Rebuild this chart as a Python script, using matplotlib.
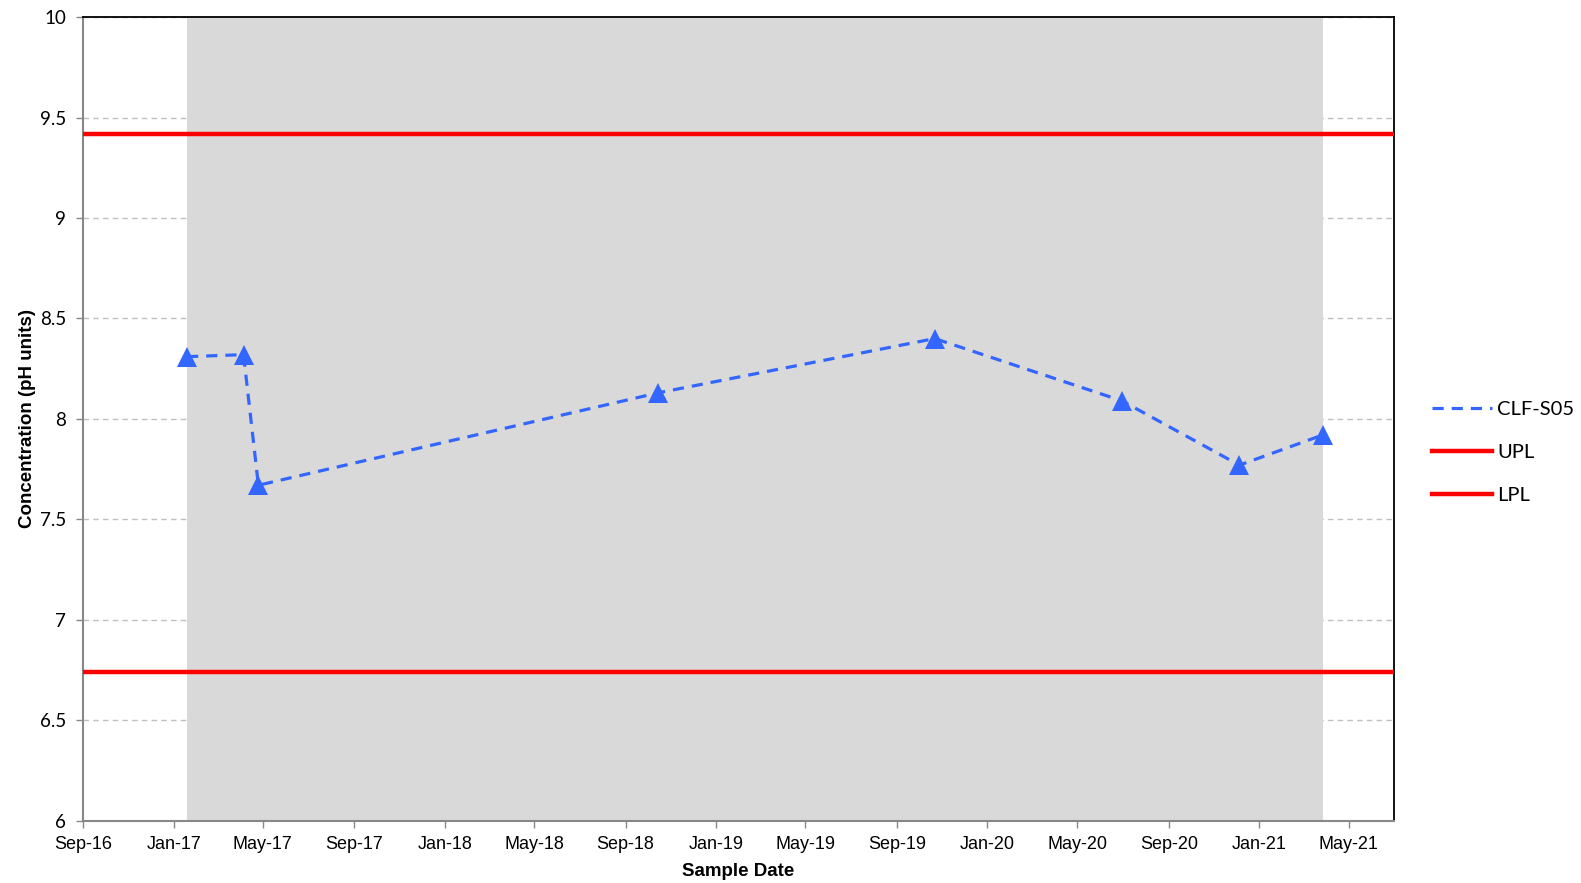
import matplotlib
matplotlib.use("Agg")
import matplotlib.pyplot as plt
import matplotlib.dates as mdates
from matplotlib.lines import Line2D
import pandas as pd

# Data
sample_dates = ["2017-01-19", "2017-04-05", "2017-04-25", "2018-10-15",
                "2019-10-22", "2020-06-30", "2020-12-05", "2021-03-27"]
ph_values = [8.31, 8.32, 7.67, 8.13, 8.40, 8.09, 7.77, 7.92]
upl_value = 9.42
lpl_value = 6.74
series_name = "CLF-S05"
tick_dates = pd.date_range("2016-09-01", "2021-05-01", freq="4MS")
y_ticks = [6, 6.5, 7, 7.5, 8, 8.5, 9, 9.5, 10]
y_tick_labels = ["6", "6.5", "7", "7.5", "8", "8.5", "9", "9.5", "10"]

dates = pd.to_datetime(sample_dates)

fig = plt.figure(figsize=(15.81, 8.83), dpi=100)
ax = fig.add_axes([0.0525, 0.0705, 0.8292, 0.9101])

xmin = pd.Timestamp("2016-09-01")
xmax = pd.Timestamp("2021-07-01")

ax.set_yticks(y_ticks)
ax.yaxis.grid(True, linestyle=(0, (4, 3)), color="#c0c0c0", linewidth=1.0, zorder=0)
ax.set_axisbelow(True)

ax.axvspan(dates.min(), dates.max(), color="#d9d9d9", zorder=1, linewidth=0)

ax.plot(dates, ph_values, linestyle=(0, (3.5, 2.5)), color="#3366ff", linewidth=2.3,
        marker="^", markersize=14, markeredgewidth=0, zorder=4, label=series_name)
ax.axhline(upl_value, color="#ff0000", linewidth=3.2, zorder=3, label="UPL")
ax.axhline(lpl_value, color="#ff0000", linewidth=3.2, zorder=3, label="LPL")

ax.set_xlim(xmin, xmax)
ax.set_ylim(6, 10)
ax.set_xticks(tick_dates)
ax.xaxis.set_major_formatter(mdates.DateFormatter("%b-%y"))

for lab in ax.get_xticklabels():
    lab.set_fontfamily("Liberation Sans")
    lab.set_fontsize(13)
ax.set_yticklabels(y_tick_labels, fontfamily="Lato", fontsize=13.5)

ax.tick_params(axis="both", direction="out", length=5, color="#888888", width=1)
ax.tick_params(axis="x", pad=6)
ax.tick_params(axis="y", pad=7)

for s in ["left", "bottom"]:
    ax.spines[s].set_color("#888888")
    ax.spines[s].set_linewidth(1.5)
for s in ["top", "right"]:
    ax.spines[s].set_color("black")
    ax.spines[s].set_linewidth(1.3)

ax.set_xlabel("Sample Date", fontfamily="Liberation Sans", fontweight="bold", fontsize=13.5, labelpad=7)
ax.set_ylabel("Concentration (pH units)", fontfamily="Liberation Sans", fontweight="bold", fontsize=13.5, labelpad=3)

handles, labels = ax.get_legend_handles_labels()
h0 = Line2D([], [], linestyle=(0, (3.5, 2.5)), color="#3366ff", linewidth=2.3)
leg = fig.legend([h0, handles[1], handles[2]], labels, loc="center left",
                 bbox_to_anchor=(0.9055, 0.4875), frameon=False, borderpad=0,
                 borderaxespad=0,
                 prop={"family": "Lato", "size": 14.5}, handlelength=3.0,
                 handletextpad=0.25, labelspacing=1.3)

fig.savefig("out.png", dpi=100)
